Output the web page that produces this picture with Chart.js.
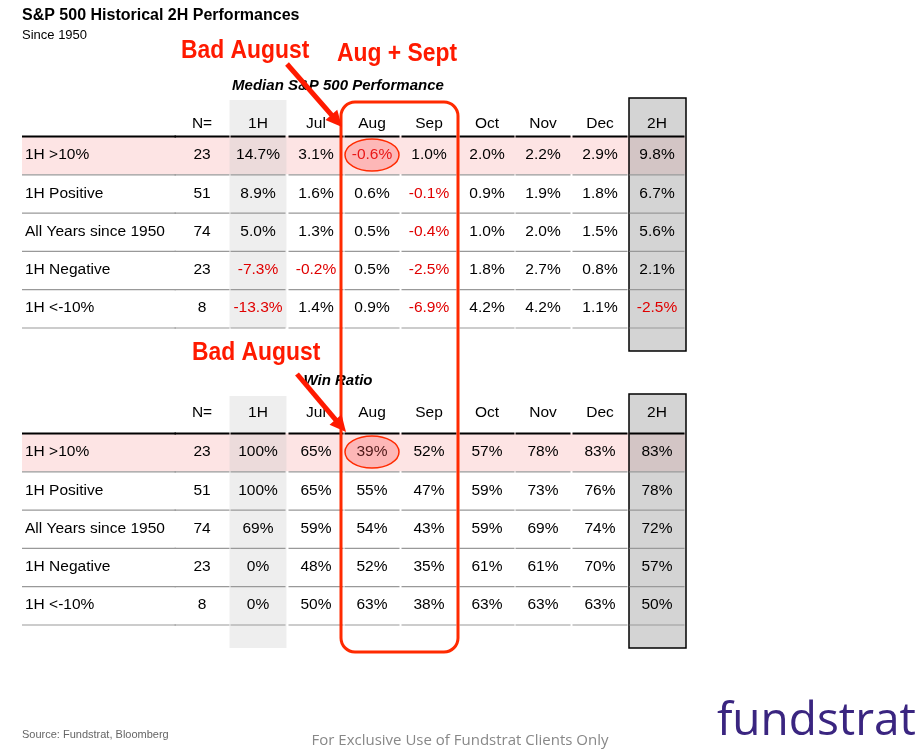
<!DOCTYPE html>
<html><head><meta charset="utf-8">
<script src="https://cdn.jsdelivr.net/npm/chart.js@4.4.1/dist/chart.umd.min.js"></script>
<style>html,body{margin:0;padding:0;background:#fff}#wrap{width:924px;height:756px}</style>
</head><body><div id="wrap"><canvas id="c"></canvas></div>
<script>
// ---- data ----
const columns = ["N=", "1H", "Jul", "Aug", "Sep", "Oct", "Nov", "Dec", "2H"];
const rowLabels = ["1H >10%", "1H Positive", "All Years since 1950", "1H Negative", "1H <-10%"];
const counts = [23, 51, 74, 23, 8];
const perf = [
  [14.7, 3.1, -0.6, 1.0, 2.0, 2.2, 2.9, 9.8],
  [8.9, 1.6, 0.6, -0.1, 0.9, 1.9, 1.8, 6.7],
  [5.0, 1.3, 0.5, -0.4, 1.0, 2.0, 1.5, 5.6],
  [-7.3, -0.2, 0.5, -2.5, 1.8, 2.7, 0.8, 2.1],
  [-13.3, 1.4, 0.9, -6.9, 4.2, 4.2, 1.1, -2.5]
];
const winRatio = [
  [100, 65, 39, 52, 57, 78, 83, 83],
  [100, 65, 55, 47, 59, 73, 76, 78],
  [69, 59, 54, 43, 59, 69, 74, 72],
  [0, 48, 52, 35, 61, 61, 70, 57],
  [0, 50, 63, 38, 63, 63, 63, 50]
];

// ---- layout ----
const colX = [202, 258, 316, 372, 429, 487, 543, 600, 657];
const colW = 57;
const tables = [
  { title: "Median S&P 500 Performance", titleY: 86, headY: 124, rowY0: 155, values: perf, fmt: v => v.toFixed(1) + "%", neg: true, grayTop: 98, grayBot: 351, g1Top: 100, g1Bot: 328 },
  { title: "Win Ratio", titleY: 381, headY: 413, rowY0: 452, values: winRatio, fmt: v => v + "%", neg: false, grayTop: 394, grayBot: 648, g1Top: 396, g1Bot: 648 }
];
const rowH = 38.3;

const tablePlugin = {
  id: "table",
  afterDraw(chart) {
    const { ctx, scales: { x, y } } = chart;
    const X = v => x.getPixelForValue(v), Y = v => y.getPixelForValue(v);
    ctx.save();
    ctx.fillStyle = "#000";
    ctx.textBaseline = "middle";
    ctx.font = "bold 16px 'Liberation Sans', Arial";
    ctx.fillText("S&P 500 Historical 2H Performances", X(22), Y(16));
    ctx.font = "13px 'Liberation Sans', Arial";
    ctx.fillText("Since 1950", X(22), Y(35));

    tables.forEach(t => {
      // backgrounds
      ctx.fillStyle = "#fde4e4";
      ctx.fillRect(X(22), Y(t.rowY0 - 19), X(686) - X(22), rowH);
      ctx.fillStyle = "rgba(200,200,200,0.3)";
      ctx.fillRect(X(colX[1] - colW / 2), Y(t.g1Top), colW, Y(t.g1Bot) - Y(t.g1Top));
      ctx.fillStyle = "rgba(160,160,160,0.45)";
      ctx.fillRect(X(629), Y(t.grayTop), 57, Y(t.grayBot) - Y(t.grayTop));
      ctx.strokeStyle = "#000"; ctx.lineWidth = 1.5;
      ctx.strokeRect(X(629), Y(t.grayTop), 57, Y(t.grayBot) - Y(t.grayTop));

      ctx.fillStyle = "#000";
      ctx.font = "bold italic 15px 'Liberation Sans', Arial";
      ctx.textAlign = "center";
      ctx.fillText(t.title, X(338), Y(t.titleY));
      ctx.font = "15.5px 'Liberation Sans', Arial";
      columns.forEach((c, i) => ctx.fillText(c, X(colX[i]), Y(t.headY)));
      // lines
      const segs = [[22, 176]].concat(colX.map(cx => [cx - colW / 2 + 1, cx + colW / 2 - 1]));
      for (let r = 0; r <= rowLabels.length; r++) {
        const ly = Y(t.rowY0 - 19 + r * rowH) + 0.5;
        ctx.strokeStyle = r === 0 ? "#000" : "#999";
        ctx.lineWidth = r === 0 ? 2 : 1.2;
        segs.forEach(s => { ctx.beginPath(); ctx.moveTo(X(s[0]), ly); ctx.lineTo(X(s[1]), ly); ctx.stroke(); });
      }
      rowLabels.forEach((lab, r) => {
        const ry = Y(t.rowY0 + r * rowH);
        ctx.textAlign = "left"; ctx.fillStyle = "#000";
        ctx.fillText(lab, X(25), ry);
        ctx.textAlign = "center";
        ctx.fillText(String(counts[r]), X(colX[0]), ry);
        t.values[r].forEach((v, i) => {
          ctx.fillStyle = t.neg && v < 0 ? "#e00000" : "#000";
          ctx.fillText(t.fmt(v), X(colX[i + 1]), ry);
        });
      });
      // highlight ellipse on August, first row
      ctx.beginPath();
      ctx.ellipse(X(colX[3]), Y(t.rowY0), 27, 16, 0, 0, Math.PI * 2);
      ctx.fillStyle = "rgba(255,80,80,0.3)"; ctx.fill();
      ctx.strokeStyle = "#ff2a00"; ctx.lineWidth = 1.5; ctx.stroke();
    });

    // Aug + Sep box
    ctx.strokeStyle = "#ff2a00"; ctx.lineWidth = 3;
    ctx.beginPath(); ctx.roundRect(X(341), Y(102), X(458) - X(341), Y(652) - Y(102), 14); ctx.stroke();

    // annotations (condensed)
    ctx.fillStyle = "#ff1a00";
    ctx.font = "bold 26px 'Liberation Sans', Arial";
    ctx.textAlign = "left";
    const narrow = (s, x0, y0) => {
      ctx.save(); ctx.translate(X(x0), Y(y0)); ctx.scale(0.88, 1);
      ctx.fillText(s, 0, 0); ctx.restore();
    };
    narrow("Bad August", 181, 51);
    narrow("Aug + Sept", 337, 54);
    narrow("Bad August", 192, 353);
    const arrow = (x0, y0, x1, y1) => {
      const a = Math.atan2(Y(y1) - Y(y0), X(x1) - X(x0));
      ctx.strokeStyle = "#ff1a00"; ctx.lineWidth = 5;
      ctx.beginPath(); ctx.moveTo(X(x0), Y(y0));
      ctx.lineTo(X(x1) - 12 * Math.cos(a), Y(y1) - 12 * Math.sin(a)); ctx.stroke();
      ctx.beginPath();
      ctx.moveTo(X(x1), Y(y1));
      ctx.lineTo(X(x1) - 18 * Math.cos(a - 0.45), Y(y1) - 18 * Math.sin(a - 0.45));
      ctx.lineTo(X(x1) - 18 * Math.cos(a + 0.45), Y(y1) - 18 * Math.sin(a + 0.45));
      ctx.closePath(); ctx.fill();
    };
    arrow(287, 64, 342, 127);
    arrow(297, 374, 346, 432);

    // footer
    ctx.fillStyle = "#666"; ctx.font = "11px 'Liberation Sans', Arial";
    ctx.fillText("Source: Fundstrat, Bloomberg", X(22), Y(735));
    ctx.fillStyle = "#888"; ctx.font = "15px 'Open Sans', sans-serif"; ctx.textAlign = "center";
    ctx.fillText("For Exclusive Use of Fundstrat Clients Only", X(460), Y(741));
    ctx.fillStyle = "#3a2580"; ctx.font = "46px 'Open Sans', sans-serif"; ctx.textAlign = "right";
    ctx.fillText("fundstrat", X(916), Y(722));
    ctx.restore();
  }
};

new Chart(document.getElementById("c").getContext("2d"), {
  type: "scatter",
  data: { datasets: [{ data: [], pointRadius: 0 }] },
  options: {
    responsive: true, maintainAspectRatio: false, animation: false,
    layout: { padding: 0 },
    plugins: { legend: { display: false }, tooltip: { enabled: false } },
    scales: {
      x: { type: "linear", min: 0, max: 924, display: false },
      y: { type: "linear", min: 0, max: 756, reverse: true, display: false }
    }
  },
  plugins: [tablePlugin]
});
</script></body></html>
